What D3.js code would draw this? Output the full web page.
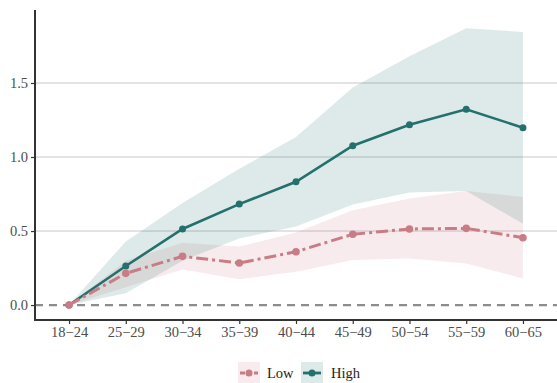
<!DOCTYPE html>
<html>
<head>
<meta charset="utf-8">
<script src="https://cdn.jsdelivr.net/npm/d3@7"></script>
<style>
html,body{margin:0;padding:0;background:#fff;}
svg{display:block;}
svg text{font-family:"Liberation Serif","Times New Roman","DejaVu Serif",serif;}
</style>
</head>
<body>
<svg id="chart" width="557" height="383"></svg>
<script>
const categories = ["18−24","25−29","30−34","35−39","40−44","45−49","50−54","55−59","60−65"];
const highMean  = [0, 0.264, 0.514, 0.682, 0.833, 1.076, 1.218, 1.322, 1.198];
const highLower = [0, 0.08, 0.30, 0.45, 0.53, 0.68, 0.76, 0.77, 0.55];
const highUpper = [0, 0.43, 0.69, 0.92, 1.135, 1.47, 1.68, 1.87, 1.845];
const lowMean   = [0, 0.214, 0.329, 0.284, 0.36, 0.478, 0.514, 0.518, 0.455];
const lowLower  = [0, 0.12, 0.24, 0.175, 0.225, 0.305, 0.315, 0.28, 0.18];
const lowUpper  = [0, 0.30, 0.42, 0.395, 0.49, 0.64, 0.72, 0.77, 0.73];
const yTicks = [0, 0.5, 1.0, 1.5];
const seriesNames = ["Low", "High"];

const teal = "#24706d", pink = "#c97c86";
const svg = d3.select("#chart");
const mLeft = 35, mRight = 557, mTop = 10, mBottom = 320;

const x = d3.scalePoint().domain(categories).range([mLeft, mRight]).padding(0.6);
const y = d3.scaleLinear().domain([-0.101, 1.993]).range([mBottom, mTop]);

// gridlines
svg.append("g").selectAll("line").data(yTicks.filter(d => d > 0)).join("line")
  .attr("x1", mLeft).attr("x2", mRight)
  .attr("y1", d => y(d)).attr("y2", d => y(d))
  .attr("stroke", "#c8c8c8").attr("stroke-width", 1);

function band(lo, hi) {
  return d3.area().x((d, i) => x(categories[i])).y0((d, i) => y(lo[i])).y1((d, i) => y(hi[i]))(categories);
}
svg.append("path").attr("d", band(lowLower, lowUpper)).attr("fill", pink).attr("fill-opacity", 0.15);
svg.append("path").attr("d", band(highLower, highUpper)).attr("fill", teal).attr("fill-opacity", 0.15);

// zero line
svg.append("line").attr("x1", mLeft).attr("x2", mRight).attr("y1", y(0)).attr("y2", y(0))
  .attr("stroke", "#8c8c8c").attr("stroke-width", 2.2).attr("stroke-dasharray", "8,6");

const lineGen = vals => d3.line().x((d, i) => x(categories[i])).y((d, i) => y(vals[i]))(categories);

svg.append("path").attr("d", lineGen(highMean)).attr("fill", "none").attr("stroke", teal).attr("stroke-width", 2.6);
svg.append("g").selectAll("circle").data(highMean).join("circle")
  .attr("cx", (d, i) => x(categories[i])).attr("cy", d => y(d)).attr("r", 3.5).attr("fill", teal);

svg.append("path").attr("d", lineGen(lowMean)).attr("fill", "none").attr("stroke", pink).attr("stroke-width", 3)
  .attr("stroke-dasharray", "12,4,3,4");
svg.append("g").selectAll("circle").data(lowMean).join("circle")
  .attr("cx", (d, i) => x(categories[i])).attr("cy", d => y(d)).attr("r", 3.8).attr("fill", pink);

// axes
const yAxis = svg.append("g").attr("transform", `translate(${mLeft},0)`)
  .call(d3.axisLeft(y).tickValues(yTicks).tickFormat(d3.format(".1f")).tickSize(4).tickPadding(3));
yAxis.attr("font-family", null).attr("font-size", null);
yAxis.select(".domain").remove();
yAxis.selectAll(".tick line").attr("stroke", "#333").attr("stroke-width", 1.2);
yAxis.selectAll("text").style("font-size", "14.5px").attr("fill", "#4d4d4d");
svg.append("line").attr("x1", mLeft).attr("x2", mLeft).attr("y1", mTop).attr("y2", mBottom + 1)
  .attr("stroke", "#333").attr("stroke-width", 2);

const xAxis = svg.append("g").attr("transform", `translate(0,${mBottom})`)
  .call(d3.axisBottom(x).tickSize(4).tickPadding(3));
xAxis.attr("font-family", null).attr("font-size", null);
xAxis.select(".domain").remove();
xAxis.selectAll(".tick line").attr("stroke", "#333").attr("stroke-width", 1.2);
xAxis.selectAll("text").style("font-size", "14.5px").attr("fill", "#4d4d4d");
svg.append("line").attr("x1", mLeft - 1).attr("x2", mRight).attr("y1", mBottom).attr("y2", mBottom)
  .attr("stroke", "#333").attr("stroke-width", 2);

// legend
const legend = svg.append("g");
const keys = [{name: seriesNames[0], color: pink, dash: "5,2", x0: 238, tx: 267},
              {name: seriesNames[1], color: teal, dash: null, x0: 301, tx: 331}];
keys.forEach(k => {
  legend.append("rect").attr("x", k.x0).attr("y", 362).attr("width", 22).attr("height", 22)
    .attr("fill", k.color).attr("fill-opacity", 0.15);
  const l = legend.append("line").attr("x1", k.x0 + 2).attr("x2", k.x0 + 20).attr("y1", 373).attr("y2", 373)
    .attr("stroke", k.color).attr("stroke-width", 2.8);
  if (k.dash) l.attr("stroke-dasharray", k.dash);
  legend.append("circle").attr("cx", k.x0 + 11).attr("cy", 373).attr("r", 3.5).attr("fill", k.color);
  legend.append("text").attr("x", k.tx).attr("y", 378).text(k.name)
    .style("font-size", "14.5px").attr("fill", "#222");
});
</script>
</body>
</html>
